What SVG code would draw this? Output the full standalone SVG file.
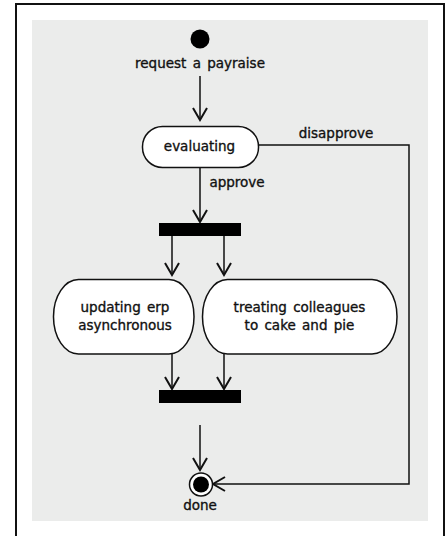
<svg xmlns="http://www.w3.org/2000/svg" width="445" height="536" viewBox="0 0 445 536">
<defs>
<style>
.t{font-family:"DejaVu Sans","Liberation Sans",sans-serif;font-size:13.5px;word-spacing:2px;fill:#111;stroke:#111;stroke-width:0.35;text-anchor:middle}
.node{fill:#fff;stroke:#111;stroke-width:1.5}
.bar{fill:#000}
.edge{fill:none;stroke:#111;stroke-width:1.5}
</style>
<marker id="arr" markerUnits="userSpaceOnUse" viewBox="-14 -9 16 18" refX="0" refY="0" markerWidth="16" markerHeight="18" orient="auto">
<path d="M-12,-7 L0,0 L-12,7" fill="none" stroke="#111" stroke-width="2"/>
</marker>
</defs>
<rect x="0" y="0" width="445" height="536" fill="#fff"/>
<path d="M16,536 V4 H444 V536" fill="none" stroke="#111" stroke-width="2"/>
<rect x="32" y="20" width="396" height="501" fill="#ebeceb"/>
<g id="connectors">
<line class="edge" x1="200" y1="76" x2="200" y2="120" marker-end="url(#arr)"/>
<line class="edge" x1="200" y1="168" x2="200" y2="222" marker-end="url(#arr)"/>
<text class="t" x="237" y="186.5">approve</text>
<polyline class="edge" points="258.5,145 409,145 409,484 213,484" marker-end="url(#arr)"/>
<text class="t" x="336" y="138">disapprove</text>
<line class="edge" x1="172" y1="236" x2="172" y2="275" marker-end="url(#arr)"/>
<line class="edge" x1="224" y1="236" x2="224" y2="275" marker-end="url(#arr)"/>
<line class="edge" x1="172" y1="354" x2="172" y2="389" marker-end="url(#arr)"/>
<line class="edge" x1="224" y1="354" x2="224" y2="389" marker-end="url(#arr)"/>
<line class="edge" x1="200" y1="425" x2="200" y2="470" marker-end="url(#arr)"/>
</g>
<g id="start">
<circle cx="200" cy="39" r="9.5" fill="#000"/>
<text class="t" x="200" y="67.5">request a payraise</text>
</g>
<g id="evaluating">
<rect class="node" x="142.5" y="126.5" width="116" height="41" rx="20" ry="20"/>
<text class="t" x="199.5" y="151">evaluating</text>
</g>
<g id="fork">
<rect class="bar" x="159" y="223" width="82" height="13"/>
</g>
<g id="updating">
<rect class="node" x="53.5" y="279.5" width="140.5" height="74.5" rx="25" ry="37"/>
<text class="t" x="125" y="312">updating erp</text>
<text class="t" x="125" y="329.5">asynchronous</text>
</g>
<g id="treating">
<rect class="node" x="202.5" y="279.5" width="194.5" height="74.5" rx="25" ry="37"/>
<text class="t" x="299.5" y="312">treating colleagues</text>
<text class="t" x="299.5" y="329.5">to cake and pie</text>
</g>
<g id="join">
<rect class="bar" x="159" y="390" width="82" height="13"/>
</g>
<g id="done">
<circle cx="201" cy="484.5" r="11.5" fill="#fff" stroke="#111" stroke-width="1.5"/>
<circle cx="201" cy="484.5" r="8" fill="#000"/>
<text class="t" x="200" y="509.5">done</text>
</g>
</svg>
